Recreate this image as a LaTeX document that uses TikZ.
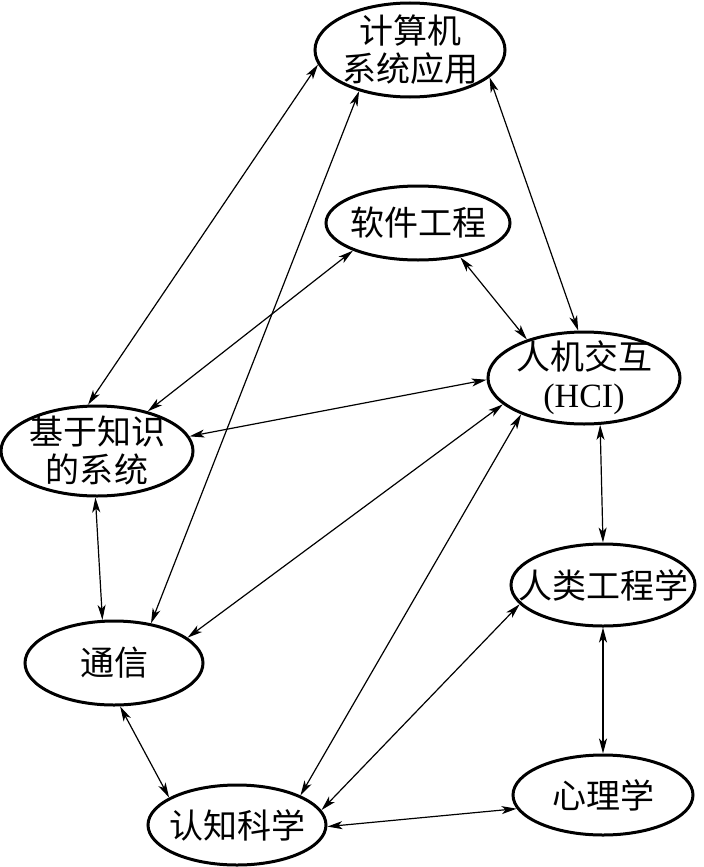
\documentclass[tikz,border=0pt]{standalone}
\usepackage{fontspec}
\setmainfont{Liberation Serif}
\newfontfamily\cjk{Noto Sans CJK SC}
\usetikzlibrary{shapes.geometric,arrows.meta}
\tikzset{
  ell/.style={ellipse, draw, line width=1.5pt, inner sep=0pt},
  lbl/.style={font=\fontsize{17}{19}\selectfont, align=center, inner sep=0pt},
  conn/.style={line width=0.6pt, {Stealth[length=7.5pt,width=4pt,inset=2pt]}-{Stealth[length=7.5pt,width=4pt,inset=2pt]}}
}
\begin{document}
\begin{tikzpicture}[x=0.5pt,y=-0.5pt]
\useasboundingbox (0,0) rectangle (704,867);
\node[ell, minimum width=95pt, minimum height=47pt] (n1) at (410,50) {};
\node[ell, minimum width=92pt, minimum height=37pt] (n2) at (418,223) {};
\node[ell, minimum width=96pt, minimum height=46pt] (n3) at (584,378) {};
\node[ell, minimum width=96pt, minimum height=45pt] (n4) at (97,451) {};
\node[ell, minimum width=92pt, minimum height=41pt] (n5) at (603,585) {};
\node[ell, minimum width=89pt, minimum height=42pt] (n6) at (114,663) {};
\node[ell, minimum width=90pt, minimum height=40pt] (n7) at (603,795) {};
\node[ell, minimum width=89pt, minimum height=40pt] (n8) at (237,825) {};
\node[lbl] (t1) at (n1) {\cjk 计算机\\\cjk 系统应用};
\node[lbl] (t2) at (n2) {\cjk 软件工程};
\node[lbl] (t3) at (n3) {\cjk 人机交互\\(HCI)};
\node[lbl] (t4) at (n4) {\cjk 基于知识\\\cjk 的系统};
\node[lbl] (t5) at (n5) {\cjk 人类工程学};
\node[lbl] (t6) at (n6) {\cjk 通信};
\node[lbl] (t7) at (n7) {\cjk 心理学};
\node[lbl] (t8) at (n8) {\cjk 认知科学};
\draw[conn] (n1.189) -- (n4.101);
\draw[conn] (n1.219) -- (n6.47);
\draw[conn] (n1.341) -- (n3.97);
\draw[conn] (n2.203) -- (n4.38);
\draw[conn] (n2.321) -- (n3.146);
\draw[conn] (n3.181) -- (n4.9);
\draw[conn] (n3.198) -- (n6.19);
\draw[conn] (n3.210) -- (n8.25);
\draw[conn] (n5.193) -- (n8.10);
\draw[conn] (n8.359) -- (n7.189);
\draw[conn] (n3.289) -- (n5.90);
\draw[conn] (n5.270) -- (n7.90);
\draw[conn] (n4.268) -- (n6.105);
\draw[conn] (n6.278) -- (n8.158);
\end{tikzpicture}
\end{document}
